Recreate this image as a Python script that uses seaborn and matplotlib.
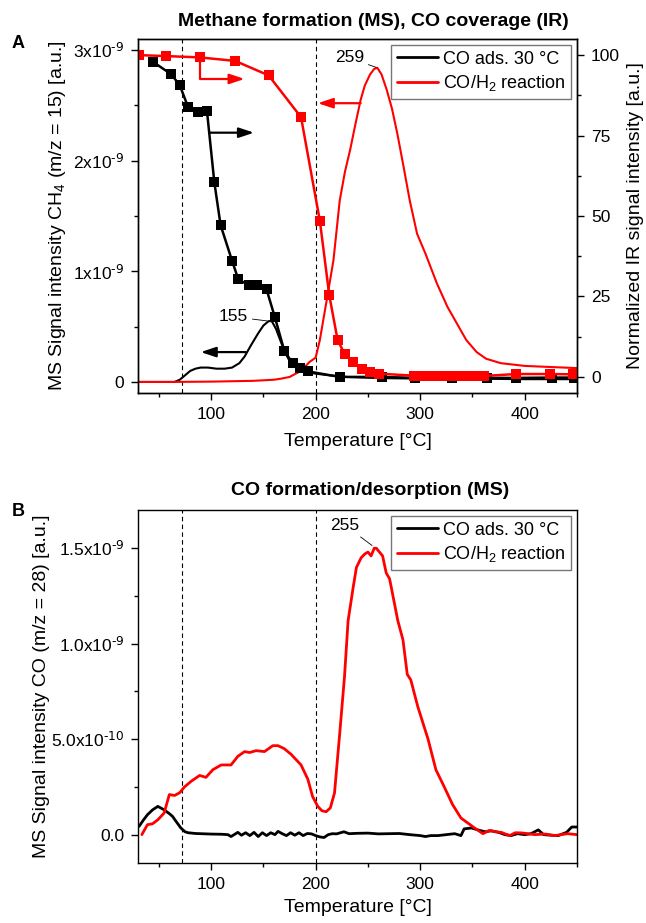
import numpy as np
import pandas as pd
import matplotlib
matplotlib.use('Agg')
import matplotlib.pyplot as plt
import seaborn as sns
from matplotlib.ticker import FuncFormatter, MultipleLocator
from matplotlib.lines import Line2D

# ---- Panel A: MS CH4 (m/z = 15), left axis
t_ch4_react = [30, 60, 100, 140, 160, 167, 175, 183, 188, 194,
               200, 204, 208, 212, 217, 223, 228, 233, 238, 243,
               247, 252, 256, 259, 263, 268, 273, 278, 284, 290,
               297, 305, 316, 326, 335, 344, 354, 363, 377, 400,
               425, 450]
ch4_react = [0.0, 0.0, 0.003, 0.01, 0.02, 0.03, 0.045, 0.085, 0.12, 0.18,
             0.22, 0.38, 0.6, 0.82, 1.1, 1.64, 1.9, 2.1, 2.33, 2.55,
             2.68, 2.78, 2.83, 2.84, 2.78, 2.64, 2.47, 2.25, 1.95, 1.64,
             1.34, 1.16, 0.89, 0.68, 0.53, 0.38, 0.27, 0.21, 0.17, 0.145,
             0.135, 0.125]

t_ch4_ads = [30, 65, 70, 75, 80, 85, 90, 97, 105, 113,
             120, 127, 132, 138, 145, 150, 155, 158, 162, 166,
             170, 175, 180, 185, 190, 200, 213, 230, 260, 300,
             350, 400, 450]
ch4_ads = [0.0, 0.0, 0.02, 0.06, 0.1, 0.12, 0.13, 0.13, 0.12, 0.12,
           0.13, 0.17, 0.23, 0.33, 0.44, 0.51, 0.55, 0.55, 0.48, 0.38,
           0.28, 0.19, 0.14, 0.11, 0.09, 0.075, 0.06, 0.045, 0.035, 0.03,
           0.03, 0.025, 0.025]

# ---- Panel A: IR CO coverage, right axis
t_ir_ads = [44, 62, 70, 78, 87, 96, 103, 109, 120, 126,
            136, 144, 153, 161, 170, 178, 185, 193, 223, 263,
            295, 330, 364, 392, 426, 447]
ir_ads = [98, 94, 90.6, 83.8, 82.2, 82.6, 60.6, 47.2, 36.1, 30.3,
          28.5, 28.5, 27.2, 18.5, 8.1, 4.2, 2.8, 1.7, 0, 0,
          -0.3, -0.3, -0.3, -0.3, -0.2, -0.2]

t_ir_react = [31, 57, 89, 123, 155, 186, 204, 213, 221, 228,
              236, 244, 252, 261, 294, 298, 302, 306, 310, 314,
              318, 322, 326, 330, 334, 338, 342, 346, 350, 354,
              358, 361, 392, 424, 446]
ir_react = [100, 99.7, 99.3, 98.2, 93.7, 80.7, 48.5, 25.4, 11.4, 7.0,
            4.5, 2.6, 1.6, 1.0, 0.4, 0.3, 0.4, 0.3, 0.4, 0.3,
            0.4, 0.3, 0.4, 0.3, 0.4, 0.3, 0.4, 0.3, 0.4, 0.3,
            0.4, 0.3, 0.9, 0.9, 0.8]

# ---- Panel B: MS CO (m/z = 28)
t_co_react = [33.7, 39, 44, 49, 55, 60, 65, 70, 74.5, 81,
              89, 95, 101.6, 109.6, 119, 125.5, 132, 136.7, 143, 151,
              159, 164, 170, 176.6, 186, 192.5, 197, 202, 206, 210,
              214, 218, 223, 227.6, 231, 236, 239, 243.5, 247, 250,
              253, 256, 258, 261, 264, 267.5, 270.7, 278.6, 283.5, 287.6,
              291, 297.7, 307.5, 315, 323, 331, 339, 345.5, 352, 360,
              366, 372, 377.5, 385.5, 391, 397, 403, 409.6, 420, 428.7,
              435, 441, 450]
co_react = [0.0, 0.052, 0.057, 0.078, 0.113, 0.21, 0.205, 0.22, 0.25, 0.28,
            0.31, 0.30, 0.34, 0.365, 0.365, 0.41, 0.435, 0.43, 0.44, 0.435,
            0.466, 0.466, 0.45, 0.42, 0.365, 0.29, 0.2, 0.148, 0.125, 0.12,
            0.14, 0.218, 0.53, 0.83, 1.12, 1.30, 1.40, 1.45, 1.47, 1.48,
            1.46, 1.50, 1.50, 1.48, 1.46, 1.37, 1.34, 1.12, 1.02, 0.84,
            0.81, 0.67, 0.50, 0.34, 0.25, 0.157, 0.087, 0.061, 0.035, 0.005,
            0.022, 0.015, 0.012, -0.005, 0.01, 0.009, 0.005, 0.0, 0.003, -0.005,
            0.0, 0.005, 0.0]

t_co_ads = [31, 35, 39, 44, 49, 55, 60, 63, 67, 71,
            75, 78, 85, 90, 100, 110, 116, 119, 122, 125.5,
            129, 133, 137, 141, 145, 149, 153, 157, 161, 164,
            168, 172, 176, 180, 184, 188, 192, 196, 200, 204,
            208, 212, 216, 220, 227, 232, 240, 250, 260, 270,
            280, 290, 300, 305, 310, 317, 325, 333, 339, 342,
            349, 355, 362, 368, 375, 381, 387, 393, 400, 406,
            413, 418, 425, 432, 440, 445, 450]
co_ads = [0.043, 0.075, 0.104, 0.13, 0.148, 0.13, 0.11, 0.096, 0.065, 0.035,
          0.015, 0.01, 0.006, 0.005, 0.003, 0.002, 0.0, -0.01, 0.0, 0.012,
          -0.003, 0.01, -0.005, 0.012, -0.01, 0.01, -0.005, 0.01, 0.0, 0.017,
          0.005, -0.005, 0.01, -0.003, 0.01, -0.005, 0.006, 0.004, -0.005, -0.012,
          -0.015, 0.0, 0.005, 0.004, 0.015, 0.005, 0.007, 0.008, 0.004, 0.005,
          0.006, 0.0, -0.005, -0.01, -0.005, -0.005, 0.0, 0.005, -0.005, 0.03,
          0.035, 0.025, 0.015, 0.02, 0.012, 0.0, -0.005, 0.005, 0.0, 0.005,
          0.025, 0.0, -0.003, -0.005, 0.012, 0.04, 0.04]

legend_labels = ['CO ads. 30 °C', 'CO/H$_2$ reaction']
dashed_temps = [72, 200]
RED = '#FF0000'

sns.set_style('ticks')
plt.rcParams['font.family'] = ['Liberation Sans', 'DejaVu Sans']
plt.rcParams['mathtext.default'] = 'regular'
plt.rcParams['axes.linewidth'] = 1.0
for key in ['text.color', 'axes.labelcolor', 'xtick.color', 'ytick.color',
            'axes.edgecolor']:
    plt.rcParams[key] = 'black'


def fmt_int(v, pos):
    if abs(v) < 1e-15:
        return '0'
    e = int(np.floor(np.log10(abs(v)) + 1e-9))
    return f'{v / 10**e:.0f}x10$^{{\\text{{{e}}}}}$'


def fmt_one(v, pos):
    if abs(v) < 1e-15:
        return '0.0'
    e = int(np.floor(np.log10(abs(v)) + 1e-9))
    return f'{v / 10**e:.1f}x10$^{{\\text{{{e}}}}}$'


def style_ticks(ax):
    ax.tick_params(which='major', direction='out', length=5, width=1,
                   labelsize=12.5, pad=5, color='black', labelcolor='black')
    ax.tick_params(which='minor', direction='out', length=3, width=1,
                   color='black')


fig = plt.figure(figsize=(6.46, 9.23), dpi=100)
ax1 = fig.add_axes([0.2136, 0.5742, 0.6796, 0.3835])
ax2 = ax1.twinx()
axb = fig.add_axes([0.2136, 0.0647, 0.6796, 0.3827])

# ---------------- Panel A
sns.lineplot(x=np.array(t_ch4_ads), y=np.array(ch4_ads) * 1e-9, color='black',
             lw=1.5, ax=ax1, sort=False)
sns.lineplot(x=np.array(t_ch4_react), y=np.array(ch4_react) * 1e-9, color=RED,
             lw=1.5, ax=ax1, sort=False)
sns.lineplot(x=t_ir_ads, y=ir_ads, color='black', lw=1.8, marker='s',
             markersize=6.5, markeredgewidth=0, ax=ax2, sort=False)
sns.lineplot(x=t_ir_react, y=ir_react, color=RED, lw=1.8, marker='s',
             markersize=6.5, markeredgewidth=0, ax=ax2, sort=False)

for t in dashed_temps:
    ax1.axvline(t, color='black', lw=0.8, ls=(0, (4, 3)), zorder=0)

ax1.set_xlim(30, 450)
ax1.set_ylim(-0.1e-9, 3.1e-9)
ax2.set_ylim(-5, 105)
ax1.xaxis.set_major_locator(MultipleLocator(100))
ax1.xaxis.set_minor_locator(MultipleLocator(50))
ax1.yaxis.set_major_locator(MultipleLocator(1e-9))
ax1.yaxis.set_minor_locator(MultipleLocator(0.5e-9))
ax1.yaxis.set_major_formatter(FuncFormatter(fmt_int))
ax2.yaxis.set_major_locator(MultipleLocator(25))
ax2.yaxis.set_minor_locator(MultipleLocator(12.5))
style_ticks(ax1)
style_ticks(ax2)
for s in ax1.spines.values():
    s.set_visible(True)
    s.set_color('black')
for s in ax2.spines.values():
    s.set_color('black')

ax1.set_xlabel('Temperature [°C]', fontsize=14)
ax1.set_ylabel('MS Signal intensity CH$_4$ (m/z = 15) [a.u.]', fontsize=14)
ax2.set_ylabel('Normalized IR signal intensity [a.u.]', fontsize=14)
ax1.xaxis.set_label_coords(0.5, -0.113)
ax1.yaxis.set_label_coords(-0.16, 0.5)
ax2.yaxis.set_label_coords(1.113, 0.5)

arrow = dict(arrowstyle='-|>,head_length=0.9,head_width=0.3', lw=1.6,
             shrinkA=0, shrinkB=0)
ax2.annotate('', xy=(141, 75.9), xytext=(98, 75.9),
             arrowprops=dict(color='black', **arrow))
ax2.annotate('', xy=(132, 92.6), xytext=(89, 99.3),
             arrowprops=dict(color=RED, connectionstyle='angle,angleA=90,angleB=0,rad=0', **arrow))
ax1.annotate('', xy=(202, 2.52e-9), xytext=(243, 2.52e-9),
             arrowprops=dict(color=RED, **arrow))
ax1.annotate('', xy=(90, 0.27e-9), xytext=(133, 0.27e-9),
             arrowprops=dict(color='black', **arrow))

ax1.annotate('259', xy=(259, 2.84e-9), xytext=(246, 2.93e-9), ha='right',
             va='center', fontsize=12.5,
             arrowprops=dict(arrowstyle='-', lw=0.6, color='black', shrinkA=1, shrinkB=1))
ax1.annotate('155', xy=(155, 0.55e-9), xytext=(135, 0.59e-9), ha='right',
             va='center', fontsize=12.5,
             arrowprops=dict(arrowstyle='-', lw=0.6, color='black', shrinkA=1, shrinkB=1))

handles = [Line2D([], [], color='black', lw=2), Line2D([], [], color=RED, lw=2)]
leg_kw = dict(loc='upper right', fontsize=13, frameon=True, fancybox=False,
              borderaxespad=0.35, handlelength=2.3, handletextpad=0.25,
              borderpad=0.3, labelspacing=0.3)
leg = ax2.legend(handles, legend_labels, **leg_kw)
leg.get_frame().set_edgecolor('#555555')
leg.get_frame().set_linewidth(1.0)

# ---------------- Panel B
sns.lineplot(x=t_co_ads, y=np.array(co_ads) * 1e-9, color='black', lw=2.0,
             ax=axb, sort=False)
sns.lineplot(x=t_co_react, y=np.array(co_react) * 1e-9, color=RED, lw=2.0,
             ax=axb, sort=False)
for t in dashed_temps:
    axb.axvline(t, color='black', lw=0.8, ls=(0, (4, 3)), zorder=0)

axb.set_xlim(30, 450)
axb.set_ylim(-0.15e-9, 1.7e-9)
axb.xaxis.set_major_locator(MultipleLocator(100))
axb.xaxis.set_minor_locator(MultipleLocator(50))
axb.yaxis.set_major_locator(MultipleLocator(0.5e-9))
axb.yaxis.set_minor_locator(MultipleLocator(0.25e-9))
axb.yaxis.set_major_formatter(FuncFormatter(fmt_one))
style_ticks(axb)
for s in axb.spines.values():
    s.set_visible(True)
    s.set_color('black')

axb.set_xlabel('Temperature [°C]', fontsize=14)
axb.set_ylabel('MS Signal intensity CO (m/z = 28) [a.u.]', fontsize=14)
axb.xaxis.set_label_coords(0.5, -0.101)
axb.yaxis.set_label_coords(-0.2, 0.5)
axb.annotate('255', xy=(255, 1.51e-9), xytext=(228, 1.62e-9), ha='center',
             va='center', fontsize=12.5,
             arrowprops=dict(arrowstyle='-', lw=0.6, color='black', shrinkA=1, shrinkB=1))
legb = axb.legend(handles, legend_labels, **leg_kw)
legb.get_frame().set_edgecolor('#555555')
legb.get_frame().set_linewidth(1.0)

# titles and panel letters
fig.text(0.578, 1 - 21.5 / 923, 'Methane formation (MS), CO coverage (IR)',
         ha='center', va='center', fontsize=14, fontweight='bold')
fig.text(0.573, 1 - 490 / 923, 'CO formation/desorption (MS)',
         ha='center', va='center', fontsize=14, fontweight='bold')
fig.text(18 / 646, 1 - 44 / 923, 'A', ha='center', va='center', fontsize=13,
         fontweight='bold')
fig.text(18 / 646, 1 - 511 / 923, 'B', ha='center', va='center', fontsize=13,
         fontweight='bold')

fig.savefig('out.png', dpi=100)
